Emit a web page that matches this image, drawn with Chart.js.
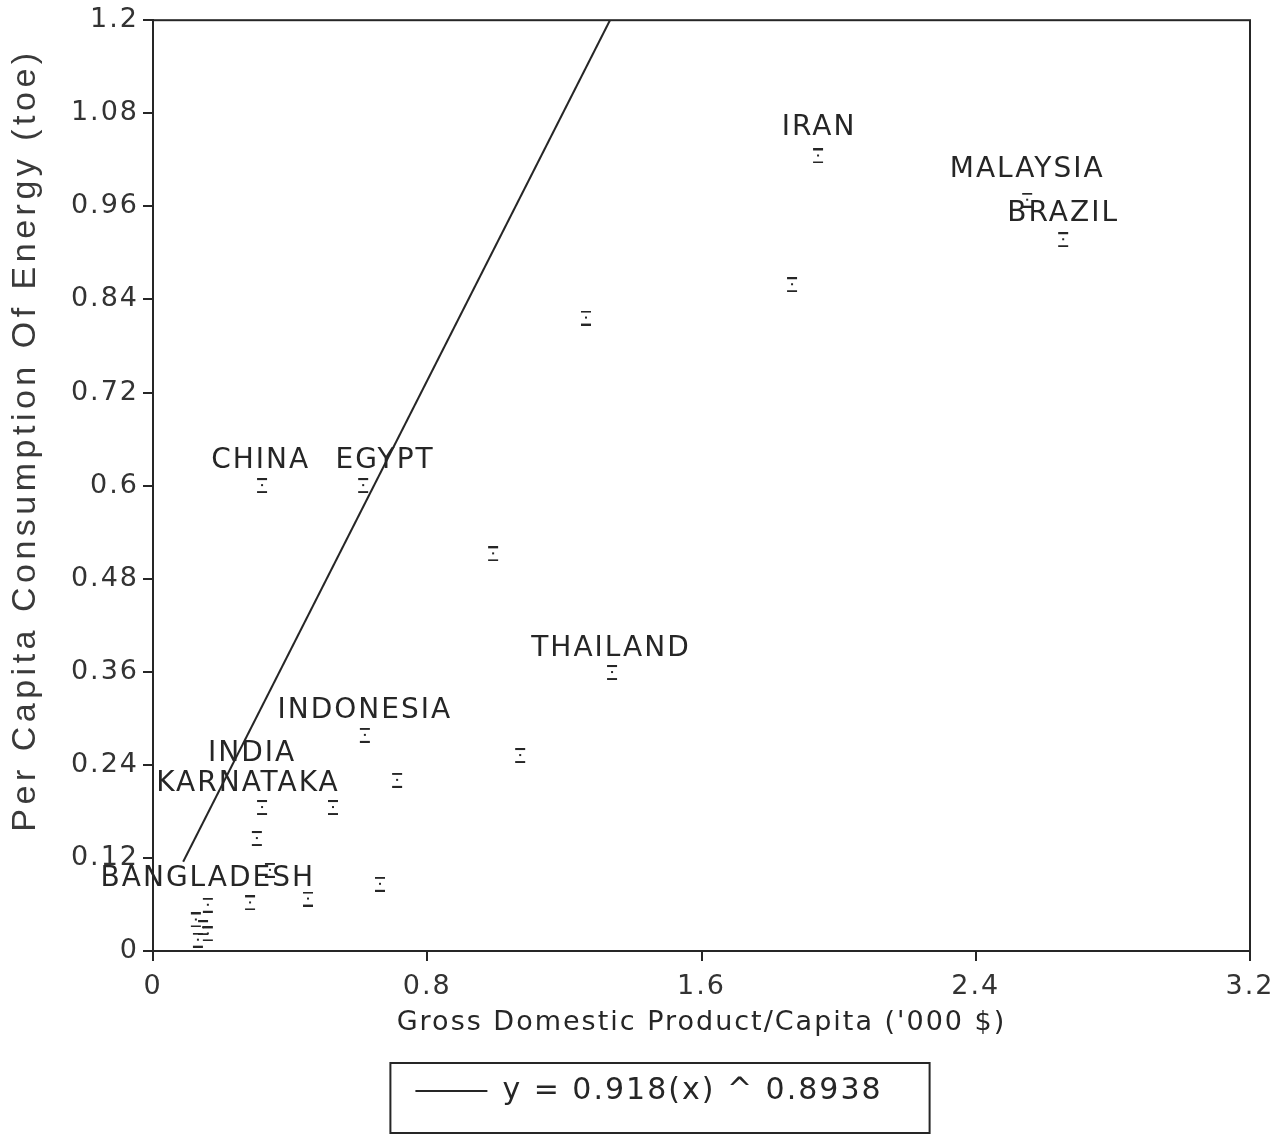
<!DOCTYPE html>
<html>
<head>
<meta charset="utf-8">
<script src="https://cdn.jsdelivr.net/npm/chart.js@4.4.1/dist/chart.umd.min.js"></script>
<style>
  html, body { margin: 0; padding: 0; background: #fff; }
  #wrap { width: 1278px; height: 1137px; }
</style>
</head>
<body>
<div id="wrap"><canvas id="chart-energy" width="1278" height="1137"></canvas></div>
<script>
// GDP per capita ('000 $) vs per capita energy use (toe)
const gdp = [1.940, 2.550, 2.655, 1.864, 1.263, 0.318, 0.613, 0.992, 1.339, 1.071,
             0.618, 0.712, 0.318, 0.525, 0.303, 0.341, 0.662, 0.452, 0.283, 0.160,
             0.125, 0.146, 0.160, 0.131];
const energy = [1.025, 0.968, 0.917, 0.859, 0.816, 0.600, 0.600, 0.512, 0.359, 0.252,
                0.278, 0.220, 0.185, 0.185, 0.145, 0.104, 0.086, 0.067, 0.062, 0.059,
                0.040, 0.030, 0.022, 0.014];

// fitted curve as drawn (end points of the straight segment)
const fitX = [0.088, 1.333];
const fitY = [0.115, 1.2];
const fitLabel = 'y = 0.918(x) ^ 0.8938';

// country names and where they sit (data units)
const countryNames = ['IRAN', 'MALAYSIA', 'BRAZIL', 'CHINA', 'EGYPT', 'THAILAND',
                      'INDONESIA', 'INDIA', 'KARNATAKA', 'BANGLADESH'];
const countryX = [1.943, 2.550, 2.655, 0.314, 0.677, 1.336, 0.618, 0.289, 0.277, 0.160];
const countryY = [1.061, 1.007, 0.951, 0.632, 0.632, 0.390, 0.310, 0.254, 0.216, 0.093];

const xTicks = [0, 0.8, 1.6, 2.4, 3.2];
const xTickLabels = ['0', '0.8', '1.6', '2.4', '3.2'];
const yTicks = [0, 0.12, 0.24, 0.36, 0.48, 0.6, 0.72, 0.84, 0.96, 1.08, 1.2];
const yTickLabels = ['0', '0.12', '0.24', '0.36', '0.48', '0.6', '0.72', '0.84', '0.96', '1.08', '1.2'];
const yTitle = 'Per Capita Consumption Of Energy (toe)';
const xTitle = "Gross Domestic Product/Capita ('000 $)";

const INK = '#262626';
const SANS = '"Liberation Sans", Arial, sans-serif';
const WIDE = '"DejaVu Sans", Verdana, sans-serif';

// little bracket marker used for each observation
const mark = document.createElement('canvas');
mark.width = 12; mark.height = 15;
const m = mark.getContext('2d');
m.fillStyle = INK;
m.fillRect(1, 0, 10, 2);
m.fillRect(1, 13, 10, 2);
m.fillRect(5, 6, 2, 2);

const scatterPts = gdp.map((x, i) => ({ x: x, y: energy[i] }));
const fitPts = fitX.map((x, i) => ({ x: x, y: fitY[i] }));

const spacing = (chart) => { chart.ctx.letterSpacing = '2px'; };

const decor = {
  id: 'decor',
  beforeUpdate: spacing,
  beforeLayout: spacing,
  afterLayout(chart) {
    // scan has the legend a little right of centre
    const lg = chart.legend;
    lg.left += 24;
    lg.right += 24;
  },
  beforeDraw: spacing,
  afterDatasetsDraw(chart) {
    const { ctx, scales: { x, y } } = chart;
    ctx.save();
    ctx.letterSpacing = '2px';
    ctx.font = '28px ' + WIDE;
    ctx.fillStyle = INK;
    ctx.textAlign = 'center';
    ctx.textBaseline = 'middle';
    countryNames.forEach((name, i) => {
      ctx.fillText(name, x.getPixelForValue(countryX[i]), y.getPixelForValue(countryY[i]));
    });
    ctx.restore();
  },
  afterDraw(chart) {
    const { ctx, chartArea: a } = chart;
    ctx.save();
    ctx.strokeStyle = INK;
    ctx.lineWidth = 2;
    ctx.strokeRect(a.left, a.top, a.right - a.left, a.bottom - a.top);
    // box round the legend entry
    const hb = chart.legend.legendHitBoxes[0];
    if (hb) {
      const cy = hb.top + hb.height / 2;
      ctx.strokeRect(hb.left - 25, cy - 28, hb.width + 72, 70);
    }
    // y axis title, sits a bit above the middle in the scan
    ctx.letterSpacing = '4.5px';
    ctx.font = '34px ' + SANS;
    ctx.fillStyle = '#3a3a3a';
    ctx.textAlign = 'center';
    ctx.textBaseline = 'middle';
    ctx.translate(26, 440);
    ctx.rotate(-Math.PI / 2);
    ctx.fillText(yTitle, 0, 0);
    ctx.restore();
  }
};

new Chart(document.getElementById('chart-energy'), {
  type: 'scatter',
  data: {
    datasets: [
      {
        label: fitLabel,
        type: 'line',
        data: fitPts,
        borderColor: INK,
        backgroundColor: INK,
        borderWidth: 2,
        pointRadius: 0,
        pointStyle: 'line',
        fill: false
      },
      {
        label: 'countries',
        data: scatterPts,
        pointStyle: mark,
        pointRadius: 7
      }
    ]
  },
  options: {
    responsive: false,
    animation: false,
    devicePixelRatio: 1,
    layout: { padding: { left: 0, top: 17, right: 28, bottom: 21 } },
    plugins: {
      tooltip: { enabled: false },
      legend: {
        position: 'bottom',
        labels: {
          filter: (item) => item.datasetIndex === 0,
          usePointStyle: true,
          pointStyleWidth: 72,
          padding: 12,
          color: INK,
          font: { family: WIDE, size: 30 }
        }
      }
    },
    scales: {
      x: {
        type: 'linear',
        min: 0,
        max: 3.2,
        afterBuildTicks: (s) => { s.ticks = xTicks.map(v => ({ value: v })); },
        afterFit: (s) => {
          s.height = 113;
          s.paddingLeft = 0;
          s.paddingRight = 0;
        },
        border: { color: INK, width: 2 },
        grid: { drawOnChartArea: false, tickLength: 10, color: INK, lineWidth: 2 },
        ticks: {
          padding: 10,
          color: '#333',
          font: { family: WIDE, size: 27 },
          maxRotation: 0,
          callback: (v, i) => xTickLabels[i]
        },
        title: {
          display: true,
          text: xTitle,
          color: INK,
          font: { family: WIDE, size: 27 },
          padding: { top: 0, bottom: 25 }
        }
      },
      y: {
        type: 'linear',
        min: 0,
        max: 1.2,
        afterBuildTicks: (s) => { s.ticks = yTicks.map(v => ({ value: v })); },
        afterFit: (s) => { s.width = 153; },
        border: { color: INK, width: 2 },
        grid: { drawOnChartArea: false, tickLength: 10, color: INK, lineWidth: 2 },
        ticks: {
          padding: 4,
          color: '#333',
          font: { family: WIDE, size: 27 },
          callback: (v, i) => yTickLabels[i]
        },
        title: { display: false }
      }
    }
  },
  plugins: [decor]
});
</script>
</body>
</html>
